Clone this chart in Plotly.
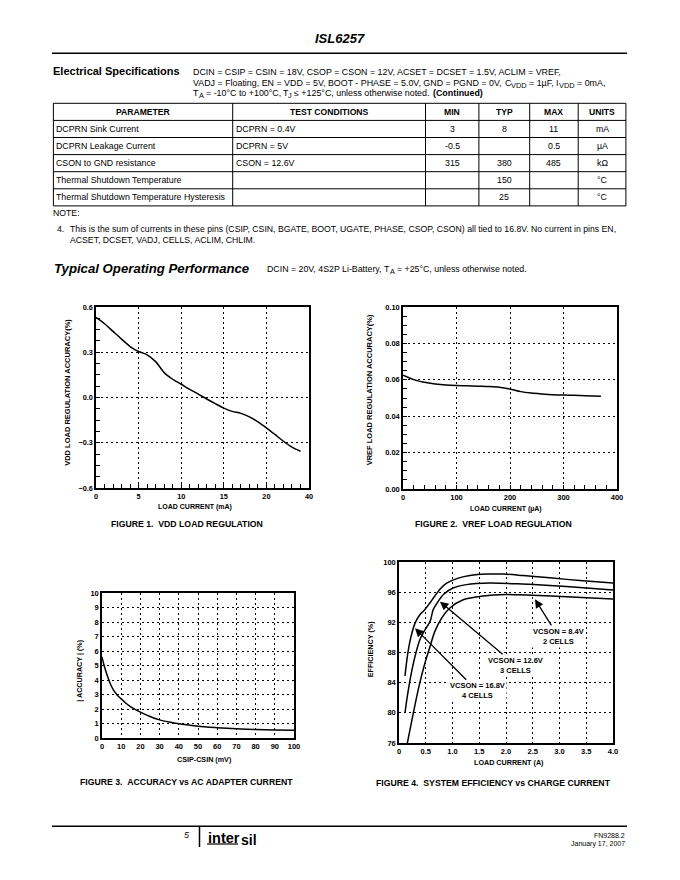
import plotly.graph_objects as go

# The page body has an 8px default margin, so the figure is 8px smaller and
# every reference pixel position is shifted by that offset.
OFF = 8
W, H = 680 - OFF, 880 - OFF
FONT = "Liberation Sans, Arial, Helvetica, sans-serif"


def X(px):
    return (px - OFF) / W


def Y(py):
    return 1 - (py - OFF) / H


# ---------------- data ----------------
# Figure 1: VDD load regulation
fig1_load_ma = [0, 1, 2, 3, 4, 5, 6, 7, 8, 9, 10, 11, 12, 13, 14, 15, 16, 17, 18, 19, 20, 21, 22, 23, 24]
fig1_accuracy = [0.531, 0.489, 0.438, 0.387, 0.338, 0.305, 0.283, 0.238, 0.165, 0.121, 0.088, 0.054,
                 0.023, -0.010, -0.041, -0.070, -0.092, -0.105, -0.128, -0.161, -0.201, -0.245,
                 -0.290, -0.329, -0.356]
fig1_xtickvals = [0, 5, 10, 15, 20, 25]
fig1_xticktext = ["0", "5", "10", "15", "20", "40"]

# Figure 2: VREF load regulation
fig2_load_ua = [0, 20, 40, 60, 80, 100, 120, 140, 160, 180, 200, 220, 240, 260, 280, 300, 320, 340, 370]
fig2_accuracy = [0.0625, 0.0601, 0.0586, 0.0577, 0.0571, 0.0568, 0.0567, 0.0565, 0.0563, 0.0559,
                 0.0549, 0.0535, 0.0527, 0.0522, 0.0518, 0.0516, 0.0515, 0.0513, 0.0509]

# Figure 3: accuracy vs AC adapter current
fig3_csip_csin_mv = [0, 1, 2, 3, 4, 5, 6, 8, 10, 12, 15, 20, 25, 30, 35, 40, 50, 60, 70, 80, 90, 100]
fig3_accuracy = [5.6, 5.05, 4.6, 4.2, 3.85, 3.55, 3.3, 2.95, 2.7, 2.45, 2.15, 1.78, 1.48, 1.25, 1.1,
                 0.98, 0.81, 0.71, 0.63, 0.58, 0.55, 0.53]

# Figure 4: system efficiency vs charge current
fig4_2cell_x = [0.112, 0.156, 0.218, 0.30, 0.39, 0.485, 0.58, 0.67, 0.765, 0.89, 1.08, 1.325, 1.636,
                1.947, 2.32, 2.82, 3.44, 4.0]
fig4_2cell_y = [84.9, 87.5, 89.9, 91.9, 93.0, 93.7, 94.6, 95.5, 96.4, 97.2, 97.8, 98.2, 98.4, 98.4,
                98.2, 97.9, 97.5, 97.2]
fig4_3cell_x = [0.112, 0.156, 0.218, 0.30, 0.39, 0.485, 0.58, 0.64, 0.715, 0.83, 1.01, 1.26, 1.70,
                2.2, 2.82, 3.44, 4.0]
fig4_3cell_y = [80.0, 82.2, 84.8, 87.5, 89.7, 91.0, 92.1, 93.7, 94.6, 95.7, 96.55, 97.0, 97.2, 97.1,
                96.9, 96.6, 96.3]
fig4_4cell_x = [0.156, 0.218, 0.30, 0.39, 0.485, 0.58, 0.67, 0.80, 0.95, 1.2, 1.57, 2.0, 2.5, 3.13, 4.0]
fig4_4cell_y = [76.0, 78.2, 81.1, 84.0, 86.6, 88.8, 90.8, 92.6, 93.9, 95.0, 95.5, 95.7, 95.6, 95.4, 95.1]
fig4_xtickvals = [0, 0.5, 1.0, 1.5, 2.0, 2.5, 3.0, 3.5, 4.0]
fig4_xticktext = ["0", "0.5", "1.0", "1.5", "2.0", "2.5", "3.0", "3.5", "4.0"]
fig4_labels = ["VCSON = 8.4V<br>2 CELLS", "VCSON = 12.6V<br>3 CELLS", "VCSON = 16.8V<br>4 CELLS"]
fig4_arrow_x = [2.542, 0.766, 0.299]
fig4_arrow_y = [95.05, 94.74, 91.21]

# Electrical specifications table
table_headers = ["PARAMETER", "TEST CONDITIONS", "MIN", "TYP", "MAX", "UNITS"]
table_parameters = ["DCPRN Sink Current", "DCPRN Leakage Current", "CSON to GND resistance",
                    "Thermal Shutdown Temperature", "Thermal Shutdown Temperature Hysteresis"]
table_conditions = ["DCPRN = 0.4V", "DCPRN = 5V", "CSON = 12.6V", "", ""]
table_min = ["3", "-0.5", "315", "", ""]
table_typ = ["8", "", "380", "150", "25"]
table_max = ["11", "0.5", "485", "", ""]
table_units = ["mA", "\u00b5A", "k\u03a9", "\u00b0C", "\u00b0C"]

# ---------------- figure ----------------
fig = go.Figure()
LINE = dict(color="black", width=1.5, shape="spline", smoothing=0.8)

fig.add_trace(go.Scatter(x=fig1_load_ma, y=fig1_accuracy, xaxis="x", yaxis="y", mode="lines", line=LINE,
                         hoverinfo="skip"))
fig.add_trace(go.Scatter(x=fig2_load_ua, y=fig2_accuracy, xaxis="x2", yaxis="y2", mode="lines", line=LINE,
                         hoverinfo="skip"))
fig.add_trace(go.Scatter(x=fig3_csip_csin_mv, y=fig3_accuracy, xaxis="x3", yaxis="y3", mode="lines",
                         line=LINE, hoverinfo="skip"))
for xs, ys in [(fig4_2cell_x, fig4_2cell_y), (fig4_3cell_x, fig4_3cell_y), (fig4_4cell_x, fig4_4cell_y)]:
    fig.add_trace(go.Scatter(x=xs, y=ys, xaxis="x4", yaxis="y4", mode="lines", line=LINE, hoverinfo="skip"))


def axis(domain, rng, anchor, ticks="", fsize=7.5, **kw):
    d = dict(domain=domain, range=rng, anchor=anchor, showline=True, linecolor="black", linewidth=1.5,
             mirror=True, showgrid=True, gridcolor="black", gridwidth=1.2, griddash="2px,3px",
             zeroline=False, ticks=ticks, ticklen=4, tickcolor="black", tickwidth=1,
             tickfont=dict(family=FONT, size=fsize, color="black", weight="bold"), automargin=False,
             fixedrange=True)
    d.update(kw)
    return d


def minor_ticks(dt, t0):
    return dict(dtick=dt, tick0=t0, ticks="inside", ticklen=4, tickcolor="black", tickwidth=1,
                showgrid=False)


# pixel boxes of the plot areas (reference page pixels)
f1 = (96, 309, 307, 488)
f2 = (403, 617, 307, 489)
f3 = (102, 294, 593, 738)
f4 = (399, 613, 562, 743)


def dom_x(b):
    return [X(b[0]), X(b[1])]


def dom_y(b):
    return [Y(b[3]), Y(b[2])]


fig.update_layout(
    width=W, height=H, margin=dict(l=0, r=0, t=0, b=0), paper_bgcolor="white", plot_bgcolor="white",
    showlegend=False, font=dict(family=FONT, color="black"),
    xaxis=axis(dom_x(f1), [0, 25], "y", ticks="inside", fsize=7.3, tickmode="array",
               tickvals=fig1_xtickvals, ticktext=fig1_xticktext, minor=minor_ticks(1, 0)),
    yaxis=axis(dom_y(f1), [-0.6, 0.6], "x", ticks="inside", fsize=7.3, dtick=0.3, tick0=-0.6,
               tickformat=".1f", minor=minor_ticks(0.075, -0.6)),
    xaxis2=axis(dom_x(f2), [0, 400], "y2", ticks="inside", dtick=100, tick0=0, minor=minor_ticks(20, 0)),
    yaxis2=axis(dom_y(f2), [0, 0.1], "x2", ticks="inside", dtick=0.02, tick0=0, tickformat=".2f",
                minor=minor_ticks(0.005, 0)),
    xaxis3=axis(dom_x(f3), [0, 100], "y3", dtick=10, tick0=0),
    yaxis3=axis(dom_y(f3), [0, 10], "x3", dtick=1, tick0=0),
    xaxis4=axis(dom_x(f4), [0, 4], "y4", tickmode="array", tickvals=fig4_xtickvals, ticktext=fig4_xticktext),
    yaxis4=axis(dom_y(f4), [76, 100], "x4", dtick=4, tick0=76),
)

anns = []


def txt(px, py, s, size=8.5, bold=False, italic=False, xanchor="left", yanchor="middle", angle=0):
    if not s:
        return
    anns.append(dict(x=X(px), y=Y(py), xref="paper", yref="paper", text=s, showarrow=False,
                     xanchor=xanchor, yanchor=yanchor, textangle=angle, borderpad=0, borderwidth=0,
                     font=dict(family=FONT, size=size, color="black",
                               weight="bold" if bold else "normal",
                               style="italic" if italic else "normal")))


# Arial / Liberation Sans advance widths (per 1000 em) used to place subscripts as separate texts
_AW = {" ": 278, "\u00a0": 278, ",": 278, "-": 333, ".": 278, "=": 584, "+": 584, "(": 333, ")": 333,
       "\u00b0": 400, "\u00b5": 556, "\u2264": 549,
       "A": 667, "B": 667, "C": 722, "D": 722, "E": 667, "F": 611, "G": 778, "H": 722, "I": 278,
       "J": 500, "K": 667, "L": 556, "M": 833, "N": 722, "O": 778, "P": 667, "R": 722, "S": 667,
       "T": 611, "U": 722, "V": 667, "a": 556, "b": 556, "c": 500, "d": 556, "e": 556, "f": 278,
       "g": 556, "h": 556, "i": 222, "l": 222, "m": 833, "n": 556, "o": 556, "r": 333, "s": 500,
       "t": 278, "u": 556, "w": 722, "y": 500}
_AWB = {" ": 278, "\u00a0": 278, "(": 333, ")": 333, "C": 722, "o": 611, "n": 611, "t": 333, "i": 278,
        "u": 611, "e": 556, "d": 611}
RENDER_SCALE = 0.988  # rendered text runs a little narrower than the nominal advances


def tw(s, size, bold=False):
    tbl = _AWB if bold else _AW
    return sum(tbl.get(ch, 556) for ch in s) * size / 1000.0 * RENDER_SCALE


def rich(px, py, segs, size):
    """segs: list of (text, kind) with kind 'n' normal, 's' subscript, 'b' bold."""
    x = px
    for s, kind in segs:
        fsz = size * 0.83 if kind == "s" else size
        bold = kind == "b"
        core = s.strip(" ")
        lead = len(s) - len(s.lstrip(" "))
        trail = len(s) - len(s.rstrip(" "))
        x += tw(" " * lead, fsz, bold)
        if core:
            txt(x, py + (2.6 if kind == "s" else 0), core, size=fsz, bold=bold)
        x += tw(core, fsz, bold) + tw(" " * trail, fsz, bold)


# header
txt(340, 38.3, "ISL6257", size=13, bold=True, italic=True, xanchor="center")
txt(53.4, 70.7, "Electrical Specifications", size=11, bold=True)
COND = 8.9
rich(193.3, 71.8, [("DCIN = CSIP = CSIN = 18V, CSOP = CSON = 12V, ACSET = DCSET = 1.5V, ACLIM = VREF,", "n")],
     COND)
rich(193.3, 82.7, [("VADJ = Floating, EN = VDD = 5V, BOOT - PHASE = 5.0V, GND = PGND = 0V, ", "n"),
                   ("C", "n"), ("VDD", "s"), (" = 1\u00b5F, ", "n"), ("I", "n"), ("VDD", "s"),
                   (" = 0mA,", "n")], COND)
rich(193.3, 93.3, [("T", "n"), ("A", "s"), (" = -10\u00b0C to +100\u00b0C, ", "n"), ("T", "n"), ("J", "s"),
                   (" \u2264 +125\u00b0C, unless otherwise noted.\u00a0\u00a0", "n"), ("(Continued)", "b")], COND)

# table grid
shapes = []
col_x = [53.4, 232.7, 425.5, 478.9, 529.7, 578.2, 625.9]
row_y = [103.3, 120.4, 137.5, 154.6, 171.7, 188.8, 205.9]


def hline(x0, x1, y, w=1.0):
    shapes.append(dict(type="line", xref="paper", yref="paper", x0=X(x0), x1=X(x1), y0=Y(y), y1=Y(y),
                       line=dict(color="black", width=w)))


def vline(x, y0, y1, w=1.0):
    shapes.append(dict(type="line", xref="paper", yref="paper", x0=X(x), x1=X(x), y0=Y(y0), y1=Y(y1),
                       line=dict(color="black", width=w)))


for ry in row_y:
    hline(col_x[0], col_x[-1], ry)
for cx in col_x:
    vline(cx, row_y[0], row_y[-1])

centers = [(col_x[i] + col_x[i + 1]) / 2 for i in range(len(col_x) - 1)]
for i, h in enumerate(table_headers):
    txt(centers[i], (row_y[0] + row_y[1]) / 2, h, size=8.6, bold=True, xanchor="center")
for r in range(len(table_parameters)):
    cy = (row_y[r + 1] + row_y[r + 2]) / 2
    txt(col_x[0] + 3, cy, table_parameters[r], size=8.8)
    txt(col_x[1] + 3.5, cy, table_conditions[r], size=8.8)
    for c, vals in zip(range(2, 6), [table_min, table_typ, table_max, table_units]):
        txt(centers[c], cy, vals[r], size=8.8, xanchor="center")

txt(53.4, 213.3, "NOTE:", size=8.7)
txt(57, 229.3, "4.", size=8.7)
txt(69.8, 229.3, "This is the sum of currents in these pins (CSIP, CSIN, BGATE, BOOT, UGATE, PHASE, CSOP, "
    "CSON) all tied to 16.8V. No current in pins EN,", size=8.7)
txt(69.8, 240.3, "ACSET, DCSET, VADJ, CELLS, ACLIM, CHLIM.", size=8.7)

# section heading
txt(53.5, 268.3, "Typical Operating Performance", size=13.2, bold=True, italic=True)
rich(267.3, 269.3, [("DCIN = 20V, 4S2P Li-Battery, ", "n"), ("T", "n"), ("A", "s"),
                    (" = +25\u00b0C, unless otherwise noted.", "n")], 8.8)

# axis titles
txt(195, 506.7, "LOAD CURRENT (mA)", size=7, bold=True, xanchor="center")
txt(67.3, 392.5, "VDD LOAD REGULATION ACCURACY(%)", size=7.5, bold=True, xanchor="center", angle=-90)
txt(506.2, 508.7, "LOAD CURRENT (\u00b5A)", size=7, bold=True, xanchor="center")
txt(369.3, 390, "VREF LOAD REGULATION ACCURACY(%)", size=7.5, bold=True, xanchor="center", angle=-90)
txt(204.5, 759.3, "CSIP-CSIN (mV)", size=7.2, bold=True, xanchor="center")
txt(79.3, 670.5, "| ACCURACY | (%)", size=7.2, bold=True, xanchor="center", angle=-90)
txt(509.2, 762.3, "LOAD CURRENT (A)", size=7.2, bold=True, xanchor="center")
txt(370, 649.2, "EFFICIENCY (%)", size=7.2, bold=True, xanchor="center", angle=-90)

# captions
S2 = "\u00a0\u00a0"
txt(186.7, 524, "FIGURE 1." + S2 + "VDD LOAD REGULATION", size=8.7, bold=True, xanchor="center")
txt(493, 524, "FIGURE 2." + S2 + "VREF LOAD REGULATION", size=8.7, bold=True, xanchor="center")
txt(186.3, 782.3, "FIGURE 3." + S2 + "ACCURACY vs AC ADAPTER CURRENT", size=8.7, bold=True, xanchor="center")
txt(493.3, 782.7, "FIGURE 4." + S2 + "SYSTEM EFFICIENCY vs CHARGE CURRENT", size=8.7, bold=True,
    xanchor="center")

# figure 4 labels with arrows pointing at their curves (offsets in pixels: label centre - arrow tip)
label_offsets = [(23.3, 37.0), (75.8, 63.5), (62.2, 62.4)]
for lab, hx, hy, (dx, dy) in zip(fig4_labels, fig4_arrow_x, fig4_arrow_y, label_offsets):
    anns.append(dict(x=hx, y=hy, xref="x4", yref="y4", text=lab, showarrow=True, ax=dx, ay=dy,
                     axref="pixel", ayref="pixel", arrowhead=2, arrowsize=1.3, arrowwidth=1.3,
                     arrowcolor="black", standoff=0, borderpad=1, align="center", bgcolor="white",
                     font=dict(family=FONT, size=7.5, color="black", weight="bold")))

# header / footer rules
hline(52, 627, 53.3, 1.5)
hline(52, 627, 826.3, 1.5)
vline(199.5, 826.3, 847, 1.5)
txt(187, 835, "5", size=9, italic=True, xanchor="center")
txt(208, 837.5, "inter", size=14.5, bold=True)
txt(240.5, 840, "sil", size=14, bold=True)
hline(207, 238, 844, 1.2)
txt(625, 835, "FN9288.2", size=7, xanchor="right")
txt(625, 843.5, "January 17, 2007", size=7, xanchor="right")

fig.update_layout(annotations=anns, shapes=shapes)
fig.write_html("out.html")
